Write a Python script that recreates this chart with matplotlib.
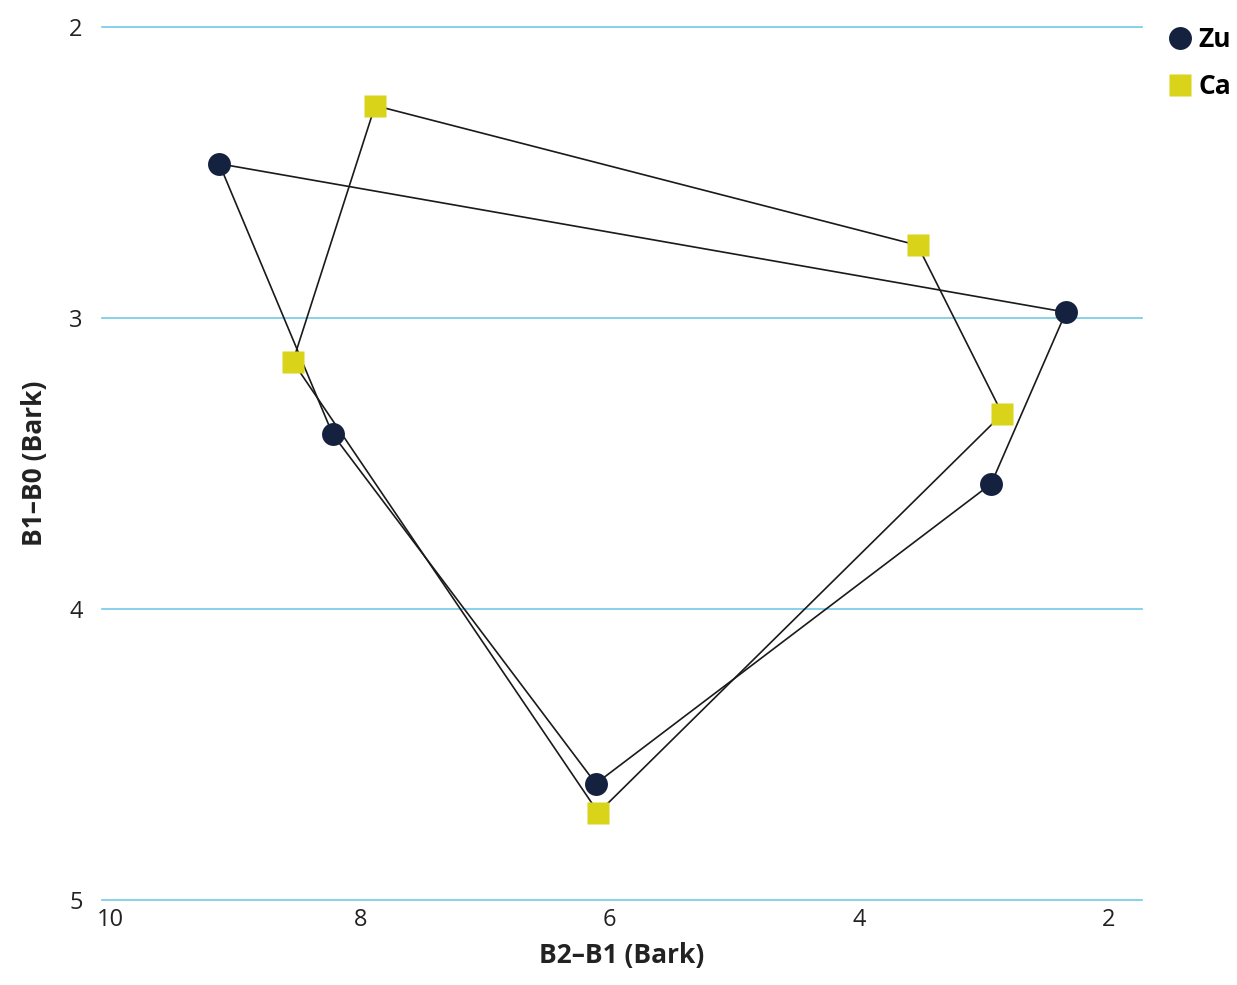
import matplotlib
matplotlib.use("Agg")
import matplotlib.pyplot as plt

plt.rcParams['font.family'] = ['Open Sans', 'DejaVu Sans']

# vowel space, B2-B1 (x) vs B1-B0 (y), in Bark
zu_x = [9.13, 8.22, 6.11, 2.94, 2.34]
zu_y = [2.47, 3.40, 4.60, 3.57, 2.98]
ca_x = [7.88, 8.54, 6.09, 2.85, 3.53]
ca_y = [2.27, 3.15, 4.70, 3.33, 2.75]

series_labels = ["Zu", "Ca"]
x_ticks = [10, 8, 6, 4, 2]
y_ticks = [2, 3, 4, 5]

NAVY = "#14213f"
YELLOW = "#d9d31a"
GRID = "#72cbe6"
TXT = "#222222"

fig = plt.figure(figsize=(12.37, 9.85), dpi=100)
ax = fig.add_axes([0.0825, 0.0863, 0.8407, 0.8863])

# horizontal guides
for yt in y_ticks:
    ax.axhline(yt, color=GRID, lw=1.2, zorder=1, clip_on=False)

# closed polygons
ax.plot(zu_x + zu_x[:1], zu_y + zu_y[:1], color="#1a1a1a", lw=1.2, zorder=2)
ax.plot(ca_x + ca_x[:1], ca_y + ca_y[:1], color="#1a1a1a", lw=1.2, zorder=2)

ax.plot(zu_x, zu_y, 'o', color=NAVY, ms=16.5, mec='none', zorder=3, label=series_labels[0])
ax.plot(ca_x, ca_y, 's', color=YELLOW, ms=16, mec='none', zorder=3, label=series_labels[1])

ax.set_xlim(10.07, 1.73)
ax.set_ylim(5, 2)
ax.set_xticks(x_ticks)
ax.set_yticks(y_ticks)
ax.set_xticklabels([str(t) for t in x_ticks])
ax.set_yticklabels([str(t) for t in y_ticks])

for s in ax.spines.values():
    s.set_visible(False)
ax.tick_params(axis='both', length=0, labelsize=17, colors=TXT)
ax.tick_params(axis='y', pad=14)
ax.tick_params(axis='x', pad=6)

ax.set_xlabel("B2–B1 (Bark)", fontsize=19, fontweight='bold', color=TXT, labelpad=7)
ax.set_ylabel("B1–B0 (Bark)", fontsize=19, fontweight='bold', color=TXT, labelpad=15)

ax.legend(loc='upper left', bbox_to_anchor=(0.935, 0.984), bbox_transform=fig.transFigure,
          frameon=False, prop={'weight': 'bold', 'size': 19},
          handletextpad=0.2, labelspacing=0.75, handlelength=1.0, borderaxespad=0)

fig.savefig("out.png", dpi=100)
